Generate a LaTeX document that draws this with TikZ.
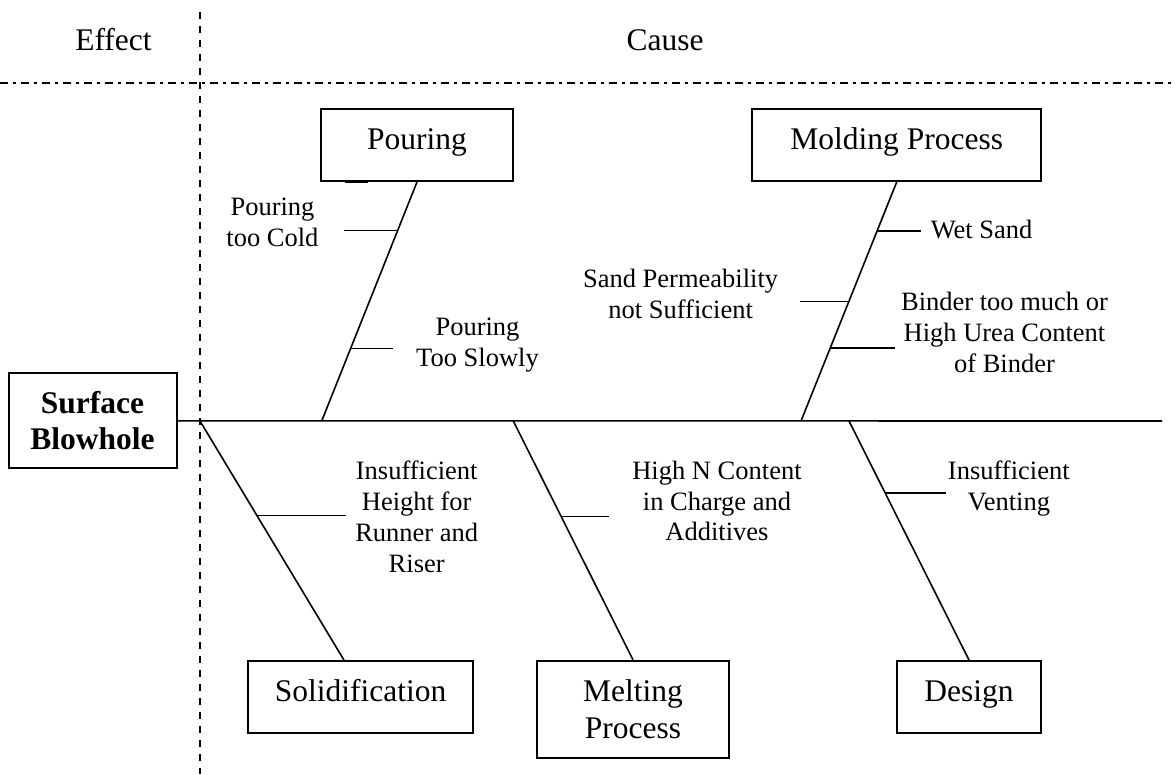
\documentclass[tikz,border=0pt]{standalone}
\usepackage{fontspec}
\setmainfont{Liberation Serif}
\usetikzlibrary{calc}
\begin{document}
\begin{tikzpicture}[x=1pt,y=-1pt,
  bigfont/.style={font=\fontsize{31.5}{36.5}\selectfont},
  catbox/.style={draw, line width=2pt, inner sep=0pt, bigfont, align=center},
  onebox/.style={catbox, text height=20pt, text depth=11pt},
  bone/.style={line width=1.6pt},
  causetext/.style={font=\fontsize{26.5}{30.8}\selectfont, align=center, inner sep=0pt},
  heading/.style={bigfont, inner sep=0pt, anchor=base},
  vdash/.style={line width=1.8pt, dash pattern=on 7pt off 7pt},
  dashdot/.style={line width=1.8pt, dash pattern=on 8pt off 5pt on 2.5pt off 5.5pt}]
\useasboundingbox (0,0) rectangle (1175,774);

% section separators
\coordinate (vtop) at (200,12);
\coordinate (vbot) at (200,774);
\coordinate (hl) at (0,83);
\coordinate (hr) at (1175,83);
\draw[vdash] (vtop) -- (vbot);
\draw[dashdot] (hl) -- (hr);
\node[heading] (effect) at (113.5,50) {Effect};
\node[heading] (cause) at (665,50) {Cause};

% effect and spine
\node[catbox, font={\fontsize{31.5}{36.5}\selectfont\bfseries}, minimum width=168, minimum height=95] (effectbox) at (92.5,420.8) {Surface\\Blowhole};
\coordinate (headend) at (1162,421);
\draw[bone] (effectbox.east) -- (headend);

% category boxes
\node[onebox, minimum width=192, minimum height=72] (pouring) at (417,145) {Pouring};
\node[onebox, minimum width=289, minimum height=72] (molding) at (896.7,145) {Molding Process};
\node[onebox, minimum width=225, minimum height=72] (solid) at (360.5,697) {Solidification};
\node[catbox, minimum width=192, minimum height=97] (melting) at (633,709.3) {Melting\\Process};
\node[onebox, minimum width=144, minimum height=72] (design) at (969,697) {Design};

% bones
\coordinate (p0) at (321.7,421);
\coordinate (m0) at (801,421);
\coordinate (s0) at (200,421);
\coordinate (me0) at (513.3,421);
\coordinate (d0) at (849,421);
\coordinate (stop) at ($(solid.north west)!0.427!(solid.north east)$);
\draw[bone] (pouring.south) -- (p0);
\draw[bone] (molding.south) -- (m0);
\draw[bone] (s0) -- (stop);
\draw[bone] (me0) -- (melting.north);
\draw[bone] (d0) -- (design.north);

% small stroke under Pouring box
\coordinate (a1) at (345,182.5);
\coordinate (a2) at (368,182.5);
\draw[bone] (a1) -- (a2);

% ticks
\coordinate (t1) at ($(pouring.south)!0.203!(p0)$);
\coordinate (t1e) at ($(t1)+(-53.7,0)$);
\coordinate (t2) at ($(pouring.south)!0.696!(p0)$);
\coordinate (t2e) at ($(t2)+(42.3,0)$);
\coordinate (t3) at ($(molding.south)!0.204!(m0)$);
\coordinate (t3e) at ($(t3)+(44.2,0)$);
\coordinate (t4) at ($(molding.south)!0.5!(m0)$);
\coordinate (t4e) at ($(t4)+(-48.5,0)$);
\coordinate (t5) at ($(molding.south)!0.695!(m0)$);
\coordinate (t5e) at ($(t5)+(64.4,0)$);
\coordinate (t6) at ($(s0)!0.396!(stop)$);
\coordinate (t6e) at ($(t6)+(88.7,0)$);
\coordinate (t7) at ($(me0)!0.4!(melting.north)$);
\coordinate (t7e) at ($(t7)+(48.3,0)$);
\coordinate (t8) at ($(d0)!0.301!(design.north)$);
\coordinate (t8e) at ($(t8)+(60.8,0)$);
\foreach \t in {1,...,8} \draw[bone] (t\t) -- (t\t e);

% cause texts
\node[causetext] (l1) at (272.5,222) {Pouring\\too Cold};
\node[causetext] (l2) at (477.5,345) {Pouring\\Too Slowly};
\node[causetext] (l3) at (981.6,230) {Wet Sand};
\node[causetext] (l4) at (680.6,294) {Sand Permeability\\not Sufficient};
\node[causetext] (l5) at (1004.5,332.5) {Binder too much or\\High Urea Content\\of Binder};
\node[causetext] (l6) at (416.7,516.7) {Insufficient\\Height for\\Runner and\\Riser};
\node[causetext] (l7) at (717,501) {High N Content\\in Charge and\\Additives};
\node[causetext] (l8) at (1008.8,488.3) {Insufficient\\Venting};
\end{tikzpicture}
\end{document}
